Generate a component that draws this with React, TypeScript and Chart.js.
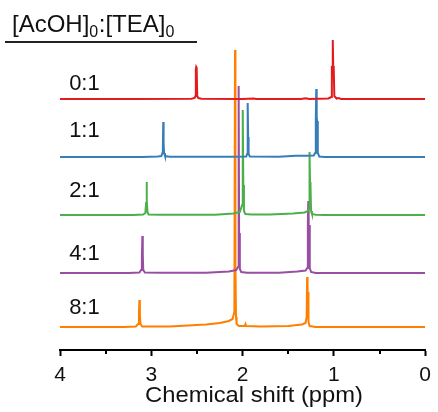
import React, { useEffect, useRef } from 'react';
import { Chart, registerables } from 'chart.js';

Chart.register(...registerables);

// ---- data ----
const RATIO_LABELS = ['0:1', '1:1', '2:1', '4:1', '8:1'];
const SERIES_COLORS = ['#e41a1c', '#377eb8', '#4daf4a', '#984ea3', '#ff7f00'];
// vertical stacking offset of each spectrum (intensity units)
const STACK_OFFSETS = [251, 193, 135, 77, 23];
const X_TICKS = [4, 3, 2, 1, 0];
const MINOR_TICKS = [3.5, 2.5, 1.5, 0.5];
const X_TITLE = 'Chemical shift (ppm)';

// [ppm, intensity]
const SPEC_0_1: number[][] = [
  [4.0, 0], [3.2, 0], [2.56, 0.3], [2.525, 1], [2.516, 3], [2.512, 30], [2.508, 32], [2.503, 31],
  [2.497, 3], [2.485, 1], [2.45, 0.3], [2.0, 0], [1.88, 0.6], [1.85, 0], [1.36, 0], [1.31, 0.8],
  [1.27, 0], [1.06, 0.5], [1.03, 2], [1.022, 33], [1.017, 30], [1.012, 59], [1.007, 31],
  [1.002, 33], [0.995, 3], [0.97, 0.5], [0.95, 1], [0.92, 0], [0.0, 0],
];
const SPEC_1_1: number[][] = [
  [4.0, 0], [3.1, 0], [2.93, 0.5], [2.89, 1], [2.878, 4], [2.873, 12], [2.869, 35], [2.865, 14],
  [2.86, 4], [2.85, 1], [2.8, 0.3], [2.1, 0.3], [1.96, 0.5], [1.95, 3], [1.944, 54], [1.939, 20],
  [1.934, 3], [1.92, 0.5], [1.6, 0.3], [1.42, 1.2], [1.3, 1.3], [1.22, 1.5], [1.205, 4],
  [1.198, 37], [1.193, 68], [1.188, 40], [1.183, 36], [1.176, 4], [1.16, 0.5], [1.1, 0], [0.0, 0],
];
const SPEC_2_1: number[][] = [
  [4.0, 0], [3.2, 0], [3.09, 0.5], [3.065, 2], [3.057, 12], [3.052, 33], [3.047, 14], [3.042, 3],
  [3.03, 0.5], [2.9, 0.3], [2.3, 0.3], [2.1, 1.5], [2.03, 3], [2.005, 10], [1.998, 105],
  [1.992, 30], [1.985, 4], [1.97, 1], [1.9, 0.5], [1.7, 0.5], [1.45, 1.5], [1.32, 2.5],
  [1.285, 4], [1.272, 6], [1.268, 32], [1.265, 63], [1.261, 33], [1.256, 30], [1.25, 4],
  [1.24, 1], [1.2, 0.3], [1.1, 0], [0.0, 0],
];
const SPEC_4_1: number[][] = [
  [4.0, 0], [3.25, 0], [3.13, 0.5], [3.112, 3], [3.103, 15], [3.098, 37], [3.093, 18], [3.088, 3],
  [3.07, 0.5], [2.9, 0.3], [2.4, 0.3], [2.15, 1.5], [2.07, 3], [2.05, 6], [2.043, 187],
  [2.038, 40], [2.03, 4], [2.015, 1], [1.95, 0.3], [1.6, 0.3], [1.4, 1.5], [1.31, 2.5],
  [1.292, 5], [1.285, 50], [1.28, 72], [1.276, 45], [1.27, 48], [1.264, 5], [1.25, 1],
  [1.2, 0], [0.0, 0],
];
const SPEC_8_1: number[][] = [
  [4.0, 0], [3.3, 0], [3.17, 0.5], [3.145, 3], [3.135, 15], [3.13, 27], [3.125, 12], [3.118, 3],
  [3.1, 0.5], [3.0, 0.5], [2.8, 0.5], [2.6, 1.5], [2.4, 2.5], [2.25, 4], [2.15, 6], [2.11, 8],
  [2.09, 15], [2.083, 277], [2.078, 60], [2.072, 10], [2.065, 3], [2.04, 1], [1.975, 1],
  [1.968, 3], [1.96, 1], [1.8, 0.5], [1.5, 1], [1.35, 2.5], [1.31, 4], [1.298, 10], [1.293, 50],
  [1.288, 30], [1.283, 35], [1.278, 5], [1.265, 1], [1.2, 0], [0.0, 0],
];
const SPECTRA = [SPEC_0_1, SPEC_1_1, SPEC_2_1, SPEC_4_1, SPEC_8_1];

// ---- layout / style constants ----
const FONT = '"Liberation Sans", Arial, Helvetica, sans-serif';
const LABEL_DY = [9, 20, 18, 13, 13];
const LABEL_PPM = 3.9;
const X_AXIS_HEIGHT = 62;

const overlayPlugin = {
  id: 'overlay',
  afterDraw(chart: any) {
    const ctx = chart.ctx as CanvasRenderingContext2D;
    const xs = chart.scales.x;
    const ys = chart.scales.y;
    const area = chart.chartArea;
    ctx.save();
    // minor ticks
    ctx.strokeStyle = '#000';
    ctx.lineWidth = 2;
    MINOR_TICKS.forEach((v) => {
      const px = Math.round(xs.getPixelForValue(v));
      ctx.beginPath();
      ctx.moveTo(px, area.bottom);
      ctx.lineTo(px, area.bottom + 4);
      ctx.stroke();
    });
    // ratio labels
    ctx.fillStyle = '#111';
    ctx.textBaseline = 'alphabetic';
    ctx.textAlign = 'left';
    ctx.font = `22px ${FONT}`;
    RATIO_LABELS.forEach((lab, i) => {
      const px = xs.getPixelForValue(LABEL_PPM);
      const py = ys.getPixelForValue(STACK_OFFSETS[i] + LABEL_DY[i]);
      ctx.fillText(lab, px, py);
    });
    // legend title with subscripts
    let tx = 12;
    const base = 32;
    const parts: [string, boolean][] = [['[AcOH]', false], ['0', true], [':[TEA]', false], ['0', true]];
    parts.forEach(([t, sub]) => {
      ctx.font = sub ? `16px ${FONT}` : `24px ${FONT}`;
      ctx.fillText(t, tx, sub ? base + 5 : base);
      tx += ctx.measureText(t).width + (sub ? 0.5 : 0);
    });
    ctx.strokeStyle = '#222';
    ctx.lineWidth = 2;
    ctx.beginPath();
    ctx.moveTo(5, 42);
    ctx.lineTo(197, 42);
    ctx.stroke();
    // x axis title
    ctx.font = `22px ${FONT}`;
    ctx.textAlign = 'center';
    ctx.translate(254, 402);
    ctx.scale(1.08, 1);
    ctx.fillText(X_TITLE, 0, 0);
    ctx.restore();
  },
};

export default function App() {
  const ref = useRef<HTMLCanvasElement | null>(null);
  useEffect(() => {
    document.body.style.margin = '0';
    const canvas = ref.current!;
    const chart = new Chart(canvas, {
      type: 'scatter',
      data: {
        datasets: SPECTRA.map((spec, i) => ({
          label: RATIO_LABELS[i],
          data: spec.map(([x, y]) => ({ x, y: y + STACK_OFFSETS[i] })),
          showLine: true,
          borderColor: SERIES_COLORS[i],
          backgroundColor: SERIES_COLORS[i],
          borderWidth: 2,
          pointRadius: 0,
          tension: 0,
          fill: false,
        })),
      },
      options: {
        animation: false,
        responsive: false,
        events: [],
        layout: { padding: { top: 0, left: 60, right: 11, bottom: 0 } },
        plugins: { legend: { display: false }, tooltip: { enabled: false }, title: { display: false } },
        scales: {
          x: {
            type: 'linear',
            min: 0,
            max: 4,
            reverse: true,
            position: 'bottom',
            afterBuildTicks: (scale: any) => {
              scale.ticks = X_TICKS.map((v) => ({ value: v }));
            },
            afterFit: (scale: any) => {
              scale.height = X_AXIS_HEIGHT;
            },
            ticks: {
              autoSkip: false,
              maxRotation: 0,
              padding: 7,
              color: '#111',
              font: { family: FONT, size: 21 },
              callback: (v: any) => String(v),
            },
            border: { display: true, color: '#000', width: 2 },
            grid: {
              display: true,
              drawOnChartArea: false,
              drawTicks: true,
              tickLength: 6,
              tickWidth: 2,
              tickColor: '#000',
            },
          },
          y: {
            type: 'linear',
            display: false,
            min: 0,
            max: 350,
          },
        },
      },
      plugins: [overlayPlugin],
    } as any);
    return () => chart.destroy();
  }, []);
  return (
    <div style={{ width: 438, height: 412 }}>
      <canvas ref={ref} width={438} height={412} style={{ display: 'block' }} />
    </div>
  );
}
